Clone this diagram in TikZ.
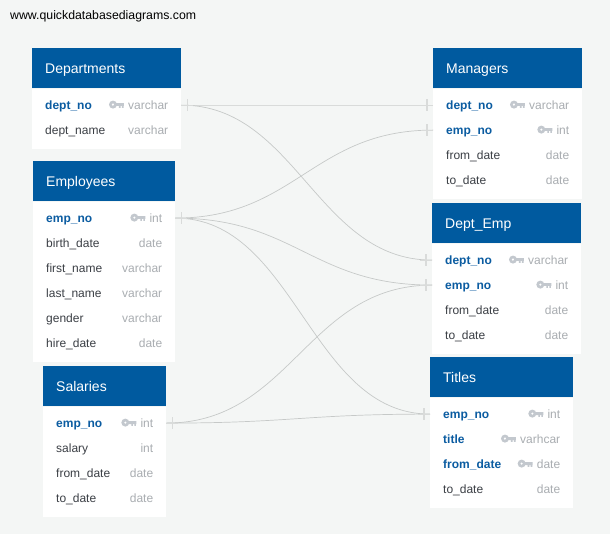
\documentclass[tikz,border=0pt]{standalone}
\usepackage{fontspec}
\setmainfont{Liberation Sans}
\usetikzlibrary{calc, positioning}
\definecolor{pagebg}{HTML}{F4F6F5}
\definecolor{headblue}{HTML}{005A9F}
\definecolor{keyblue}{HTML}{0B5CA1}
\definecolor{namegrey}{HTML}{3B3F45}
\definecolor{typegrey}{HTML}{A9ADB1}
\definecolor{keygrey}{HTML}{C3C8CE}
\definecolor{linkgrey}{HTML}{C6C9C8}
\definecolor{stubgrey}{HTML}{D9DBDA}
\tikzstyle{tablehead} = [fill=headblue, text=white, anchor=north west, align=left,
    inner xsep=13pt, inner ysep=0pt, minimum height=40pt, text height=13pt, text depth=3pt,
    font=\fontsize{14}{16}\selectfont]
\tikzstyle{tablebody} = [fill=white, anchor=north, inner sep=0pt]
\tikzstyle{rowbox} = [anchor=north, inner sep=0pt, minimum height=25pt]
\tikzstyle{plainfield} = [text=namegrey, anchor=west, inner sep=0pt, xshift=13pt,
    text height=11.5pt, text depth=3pt, font=\fontsize{12}{14}\selectfont]
\tikzstyle{keyfield} = [plainfield, text=keyblue, font=\fontsize{12}{14}\bfseries\selectfont]
\tikzstyle{fieldtype} = [text=typegrey, anchor=east, inner sep=0pt, xshift=-13pt,
    text height=11.5pt, text depth=3pt, font=\fontsize{12}{14}\selectfont]
\tikzstyle{link} = [draw=linkgrey, line width=0.7pt]
\tikzstyle{stub} = [draw=stubgrey, line width=1.1pt]
\tikzset{
  keyicon/.pic={
    \fill[keygrey, even odd rule] (-11,0) circle (4pt) (-11,0) circle (1.4pt);
    \fill[keygrey] (-8,-1.4) rectangle (0,1.4) (-5,1.4) rectangle (-3.4,3.2) (-2,1.4) rectangle (-0.4,3.2);
  }
}

\begin{document}
\begin{tikzpicture}[x=1pt, y=-1pt]
    \useasboundingbox[fill=pagebg] (0,0) rectangle (610,534);
    \node[anchor=west, inner sep=0pt, font=\fontsize{12.3}{14}\selectfont] (site) at (10,16) {www.quickdatabasediagrams.com};

    % Departments
    \node[tablehead, text width=123pt] (dephead) at (32,48) {Departments};
    \node[tablebody, minimum width=149pt, minimum height=60pt, below=0pt of dephead] (depbody) {};
    \foreach \i/\fstyle/\fname/\ftype in {1/keyfield/dept\_no/varchar, 2/plainfield/dept\_name/varchar} {
      \node[rowbox, minimum width=149pt] (dep\i) at ([yshift=21pt-\i*25pt]dephead.south) {};
      \node[\fstyle] (dep\i n) at (dep\i.west) {\fname};
      \node[fieldtype] (dep\i t) at (dep\i.east) {\ftype};
    }

    % Employees
    \node[tablehead, text width=116pt] (emphead) at (33,161) {Employees};
    \node[tablebody, minimum width=142pt, minimum height=160pt, below=0pt of emphead] (empbody) {};
    \foreach \i/\fstyle/\fname/\ftype in {1/keyfield/emp\_no/int, 2/plainfield/birth\_date/date,
        3/plainfield/first\_name/varchar, 4/plainfield/last\_name/varchar,
        5/plainfield/gender/varchar, 6/plainfield/hire\_date/date} {
      \node[rowbox, minimum width=142pt] (emp\i) at ([yshift=21pt-\i*25pt]emphead.south) {};
      \node[\fstyle] (emp\i n) at (emp\i.west) {\fname};
      \node[fieldtype] (emp\i t) at (emp\i.east) {\ftype};
    }

    % Salaries
    \node[tablehead, text width=97pt] (salhead) at (43,366) {Salaries};
    \node[tablebody, minimum width=123pt, minimum height=110pt, below=0pt of salhead] (salbody) {};
    \foreach \i/\fstyle/\fname/\ftype in {1/keyfield/emp\_no/int, 2/plainfield/salary/int,
        3/plainfield/from\_date/date, 4/plainfield/to\_date/date} {
      \node[rowbox, minimum width=123pt] (sal\i) at ([yshift=21pt-\i*25pt]salhead.south) {};
      \node[\fstyle] (sal\i n) at (sal\i.west) {\fname};
      \node[fieldtype] (sal\i t) at (sal\i.east) {\ftype};
    }

    % Managers
    \node[tablehead, text width=123pt] (mgrhead) at (433,48) {Managers};
    \node[tablebody, minimum width=149pt, minimum height=110pt, below=0pt of mgrhead] (mgrbody) {};
    \foreach \i/\fstyle/\fname/\ftype in {1/keyfield/dept\_no/varchar, 2/keyfield/emp\_no/int,
        3/plainfield/from\_date/date, 4/plainfield/to\_date/date} {
      \node[rowbox, minimum width=149pt] (mgr\i) at ([yshift=21pt-\i*25pt]mgrhead.south) {};
      \node[\fstyle] (mgr\i n) at (mgr\i.west) {\fname};
      \node[fieldtype] (mgr\i t) at (mgr\i.east) {\ftype};
    }

    % Dept_Emp
    \node[tablehead, text width=123pt] (dmphead) at (432,203) {Dept\_Emp};
    \node[tablebody, minimum width=149pt, minimum height=110pt, below=0pt of dmphead] (dmpbody) {};
    \foreach \i/\fstyle/\fname/\ftype in {1/keyfield/dept\_no/varchar, 2/keyfield/emp\_no/int,
        3/plainfield/from\_date/date, 4/plainfield/to\_date/date} {
      \node[rowbox, minimum width=149pt] (dmp\i) at ([yshift=21pt-\i*25pt]dmphead.south) {};
      \node[\fstyle] (dmp\i n) at (dmp\i.west) {\fname};
      \node[fieldtype] (dmp\i t) at (dmp\i.east) {\ftype};
    }

    % Titles
    \node[tablehead, text width=117pt] (tithead) at (430,357) {Titles};
    \node[tablebody, minimum width=143pt, minimum height=110pt, below=0pt of tithead] (titbody) {};
    \foreach \i/\fstyle/\fname/\ftype in {1/keyfield/emp\_no/int, 2/keyfield/title/varhcar,
        3/keyfield/from\_date/date, 4/plainfield/to\_date/date} {
      \node[rowbox, minimum width=143pt] (tit\i) at ([yshift=21pt-\i*25pt]tithead.south) {};
      \node[\fstyle] (tit\i n) at (tit\i.west) {\fname};
      \node[fieldtype] (tit\i t) at (tit\i.east) {\ftype};
    }

    % key icons
    \foreach \n in {dep1, emp1, sal1, mgr1, mgr2, dmp1, dmp2, tit1, tit2, tit3}
      \pic at ([xshift=-4pt,yshift=0.5pt]\n t.west) {keyicon};

    % connectors
    \draw[stub] (dep1.east) -- (mgr1.west);
    \draw[link] (dep1.east) .. controls +(115,0) and +(-115,0) .. (dmp1.west);
    \draw[link] (emp1.east) .. controls +(120,0) and +(-120,0) .. (mgr2.west);
    \draw[link] (emp1.east) .. controls +(120,0) and +(-120,0) .. (dmp2.west);
    \draw[link] (emp1.east) .. controls +(120,0) and +(-120,0) .. (tit1.west);
    \draw[link] (sal1.east) .. controls +(125,0) and +(-125,0) .. (dmp2.west);
    \draw[link] (sal1.east) .. controls +(125,0) and +(-125,0) .. (tit1.west);

    % the bars next to the tables
    \foreach \n in {dep1, emp1, sal1} {
      \draw[stub] (\n.east) -- +(12,0);
      \draw[stub] ([xshift=6pt,yshift=6pt]\n.east) -- ([xshift=6pt,yshift=-6pt]\n.east);
    }
    \foreach \n in {mgr1, mgr2, dmp1, dmp2, tit1} {
      \draw[stub] (\n.west) -- +(-12,0);
      \draw[stub] ([xshift=-6pt,yshift=6pt]\n.west) -- ([xshift=-6pt,yshift=-6pt]\n.west);
    }
\end{tikzpicture}
\end{document}
